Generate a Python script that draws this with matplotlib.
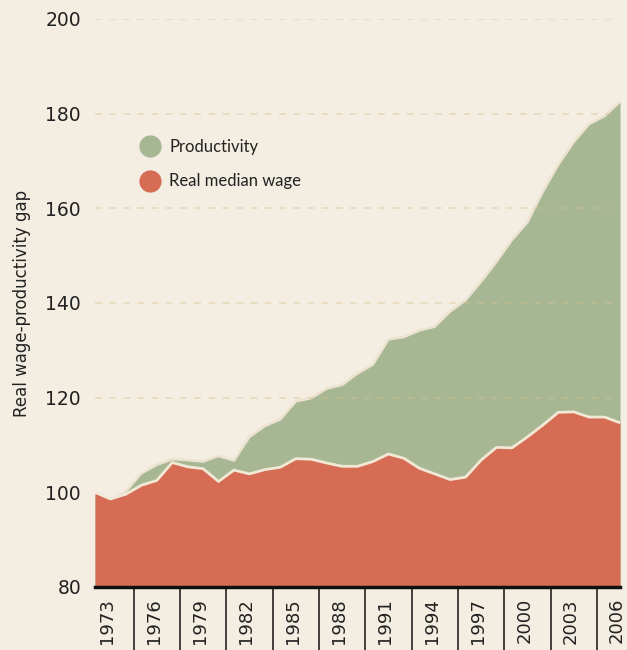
import numpy as np
import matplotlib.pyplot as plt
import matplotlib.transforms as mtransforms
from matplotlib.lines import Line2D

# Data (index, 1973 = 100)
years = np.arange(1972, 2007)
wage = [100.0, 98.6, 99.6, 101.5, 102.5, 106.3, 105.4, 105.0, 102.3, 104.7,
        103.9, 104.8, 105.3, 107.1, 107.0, 106.2, 105.5, 105.5, 106.5, 108.1,
        107.2, 105.1, 103.9, 102.7, 103.2, 106.8, 109.5, 109.4, 111.7, 114.2,
        116.9, 117.0, 115.9, 115.9, 114.7]
productivity = [99.7, 98.3, 100.2, 104.0, 105.8, 107.0, 106.8, 106.5, 107.7, 106.7,
                111.7, 114.0, 115.4, 119.2, 119.9, 121.9, 122.7, 125.1, 127.0, 132.3,
                132.8, 134.2, 135.0, 138.2, 140.6, 144.5, 148.7, 153.3, 157.0, 163.5,
                169.2, 174.0, 177.8, 179.5, 182.5]
tick_years = list(range(1973, 2007, 3))
y_ticks = [80, 100, 120, 140, 160, 180, 200]

bg = "#f3ede2"
green = "#a7b793"
red = "#d56c53"

plt.rcParams["font.family"] = ["DejaVu Sans"]

fig = plt.figure(figsize=(6.27, 6.5), dpi=100, facecolor=bg)
ax = fig.add_axes([95 / 627, 63 / 650, 525 / 627, 568 / 650])
ax.set_facecolor(bg)

wage = np.array(wage)
productivity = np.array(productivity)

# Areas
ax.fill_between(years, 80, productivity, color=green, lw=0, zorder=2)
ax.plot(years, productivity, color="#ebe2d0", lw=1.8, zorder=3)
ax.fill_between(years, 80, wage, color=red, lw=0, zorder=4)
ax.plot(years, wage, color="#f1e8d6", lw=2.0, zorder=5)

# Grid (dashed, above the areas, none on the red part)
for v in y_ticks[2:]:
    ax.plot([1972, 2005.7], [v, v], color="#d8c08c", alpha=0.45, lw=1.2,
            dashes=(4, 4.5), zorder=6)

ax.set_xlim(1972, 2006)
ax.set_ylim(80, 200)

ax.set_yticks(y_ticks)
ax.set_yticklabels([str(v) for v in y_ticks])
ax.tick_params(axis="y", length=0, pad=10, labelsize=13.5, labelcolor="#222222")

ax.set_xticks(tick_years)
ax.set_xticklabels([str(y) for y in tick_years], rotation=90, va="top", ha="center")
ax.tick_params(axis="x", which="major", length=0, pad=8, labelsize=13,
               labelcolor="#222222")
shift = mtransforms.ScaledTranslation(-3 / 100, 0, fig.dpi_scale_trans)
for lbl in ax.get_xticklabels():
    lbl.set_transform(lbl.get_transform() + shift)
ax.set_xticks(np.arange(1974.5, 2006, 3), minor=True)
ax.tick_params(axis="x", which="minor", length=46, width=1.1, color="#111111",
               direction="out")

for s in ["top", "right", "left"]:
    ax.spines[s].set_visible(False)
ax.spines["bottom"].set_linewidth(2.5)
ax.spines["bottom"].set_color("#111111")
ax.spines["bottom"].set_zorder(7)

ax.set_ylabel("Real wage-productivity gap", fontsize=12, color="#222222", labelpad=10)

handles = [
    Line2D([], [], marker="o", ls="none", markersize=15, color=green, label="Productivity"),
    Line2D([], [], marker="o", ls="none", markersize=15, color=red, label="Real median wage"),
]
ax.legend(handles=handles, loc="upper left", bbox_to_anchor=(0.052, 0.815), frameon=False,
          prop={"family": ["Lato", "DejaVu Sans"], "size": 12}, labelspacing=1.1,
          handletextpad=0.42, handlelength=1.5, labelcolor="#222222")

plt.savefig("out.png", dpi=100, facecolor=bg)
